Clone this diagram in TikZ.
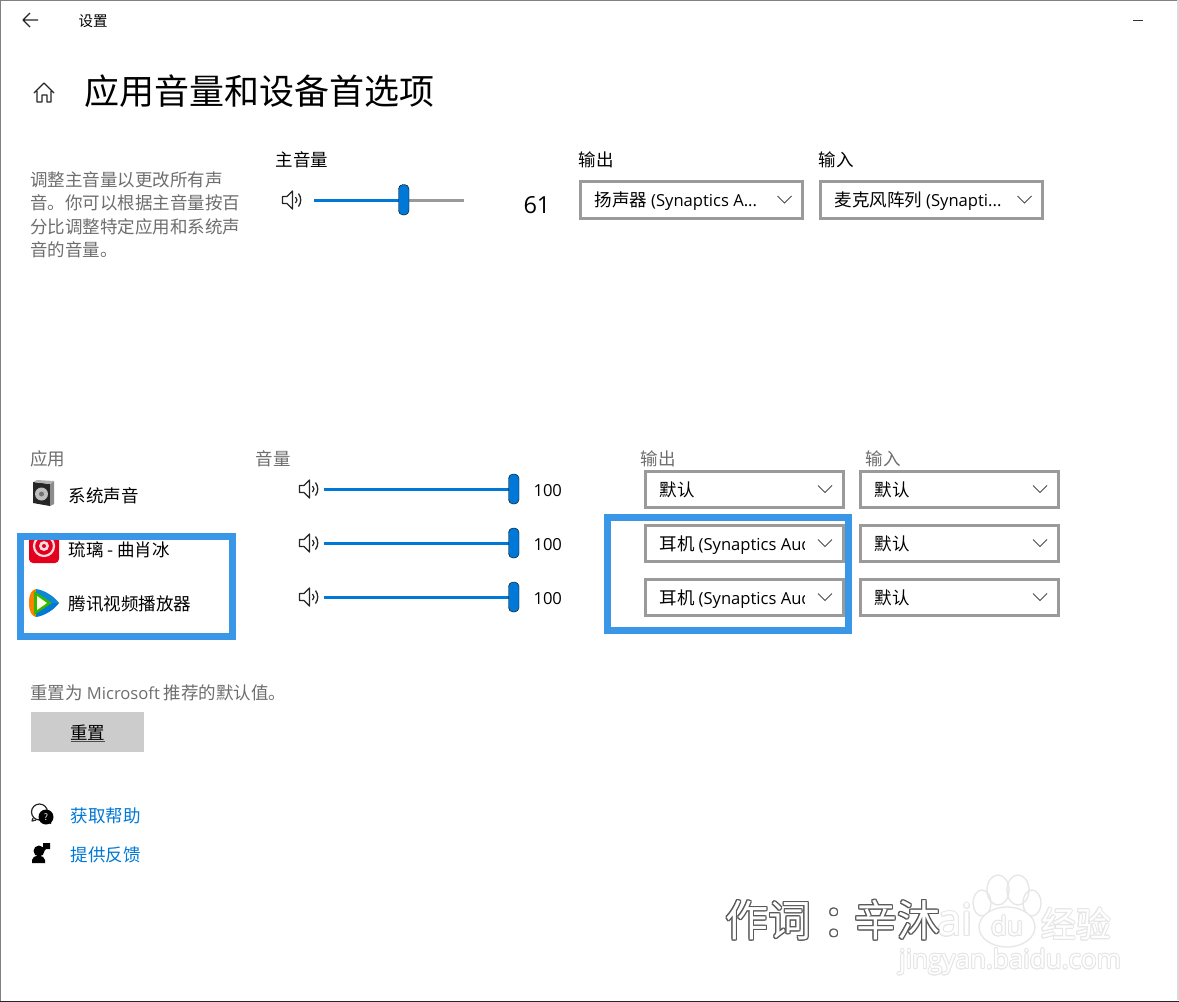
\documentclass[tikz,border=0pt]{standalone}
\usepackage{fontspec}
\setmainfont{Noto Sans CJK SC}
\newfontfamily\lat{Open Sans}
\usetikzlibrary{calc}
\definecolor{winblue}{HTML}{0078D7}
\definecolor{markblue}{HTML}{3A96E6}
\definecolor{boxgrey}{HTML}{9A9A9A}
\definecolor{mutedtext}{HTML}{6E6E6E}
\definecolor{wmgrey}{HTML}{E6E6E6}
\definecolor{neteasered}{HTML}{E2001E}
\newcommand{\fs}[1]{\fontsize{#1}{#1}\selectfont}
\newcommand{\cl}{\lat\fontsize{16.6}{16.6}\selectfont}
\newcommand{\outltext}[3]{% text, stroke colour, radius
  \foreach \a in {0,30,...,330}{\pgfmathsetlengthmacro{\dx}{#3*cos(\a)}\pgfmathsetlengthmacro{\dy}{#3*sin(\a)}%
    \rlap{\kern\dx\raise\dy\hbox{\color{#2}#1}}}%
  \rlap{\color{white}#1}\phantom{#1}}
\tikzset{
  x=1pt,y=-1pt,
  lbl/.style={anchor=west,inner sep=0pt,font=\fs{17.5},xshift=-0.7pt},
  muted/.style={lbl,text=mutedtext},
  combotxt/.style={anchor=base west,inner sep=0pt,font=\fs{17.5}},
  combobox/.style={draw=boxgrey,line width=3pt,fill=white},
  chev/.style={draw=black!70,line width=1pt},
  track/.style={line width=3pt},
  thumb/.style={fill=winblue,rounded corners=4.5pt},
  markframe/.style={draw=markblue,line width=7pt},
  glyph/.style={draw=black!85,line width=1.4pt,line join=round},
  link/.style={lbl,text=winblue},
  wmline/.style={draw=wmgrey,line width=1.3pt},
}
% name, x1,y1,x2,y2,text
\newcommand{\combo}[6]{%
  \draw[combobox] (#2,#3) rectangle (#4,#5);
  \node[combotxt] (#1) at ($(#2,#3)!0.5!(#2,#5)+(14,6.5)$) {#6};
  \fill[white] (#4-38,#3+2) rectangle (#4-2,#5-2);
  \draw[chev] ($(#4,#3)!0.5!(#4,#5)+(-25,-4)$) -- ++(7,7) -- ++(7,-7);
}
\newcommand{\spk}[2]{%
  \begin{scope}[shift={(#1,#2)}]
    \draw[glyph,line width=1.3pt] (-8.5,-3.5) -- (-4,-3.5) -- (1.5,-9) -- (1.5,9) -- (-4,3.5) -- (-8.5,3.5) -- cycle;
    \draw[glyph,line width=1.3pt] (4.5,-3) .. controls (6.5,-1) and (6.5,1) .. (4.5,3);
    \draw[glyph,line width=1.3pt] (7.5,-6.5) .. controls (10.5,-2) and (10.5,2) .. (7.5,6.5);
  \end{scope}}
\newcommand{\slider}[4]{%
  \draw[track,boxgrey] (#1,#3) -- (#2,#3);
  \draw[track,winblue] (#1,#3) -- (#4,#3);
}
\begin{document}
\begin{tikzpicture}
\useasboundingbox (0,0) rectangle (1179,1002);
\fill[white] (0,0) rectangle (1179,1002);
% window edges
\draw[draw=gray,line width=1.5pt] (0.5,0) -- (0.5,1002);
\draw[draw=gray,line width=1pt] (0,0.5) -- (1179,0.5);
\draw[draw=black!15,line width=2pt] (1177.5,0) -- (1177.5,1000);
\draw[draw=black!85,line width=1.5pt] (0,1001.3) -- (1179,1001.3);
% title bar
\draw[glyph,line width=1.2pt] (23,20) -- (38,20) (30,13) -- (23,20) -- (30,27);
\node[lbl,font=\fs{14.5}] (settings) at (79,21.5) {设置};
\draw[black!80,line width=1pt] (1133,20.5) -- (1143,20.5);
% heading
\draw[glyph] (34,93) -- (44,83) -- (54,93) (37,91) -- (37,102) -- (42,102) -- (42,95) -- (47,95) -- (47,102) -- (51,102) -- (51,91);
\node[lbl,font=\fs{35}] (title) at (85,91) {应用音量和设备首选项};
% description
\node[muted] (d1) at (31,180) {调整主音量以更改所有声};
\node[muted] (d2) at (31,203) {音。你可以根据主音量按百};
\node[muted] (d3) at (31,227) {分比调整特定应用和系统声};
\node[muted] (d4) at (31,250) {音的音量。};
% master
\node[lbl] (master) at (276,160) {主音量};
\spk{291}{200}
\slider{314}{464}{200}{404}
\draw[thumb] (398.5,184.5) rectangle (409,215);
\node[lbl,font=\lat\fs{23.5}] (vol) at (524,205) {61};
\node[lbl] (outh) at (579,160) {输出};
\node[lbl] (inh) at (819,160) {输入};
\combo{c1}{580.5}{181.5}{802.5}{218.5}{扬声器 {\cl (Synaptics A...}}
\combo{c2}{820.5}{181.5}{1042.5}{218.5}{麦克风阵列 {\cl (Synapti...}}
% table headers
\node[muted] (happ) at (31,459) {应用};
\node[muted] (hvol) at (256,459) {音量};
\node[muted] (hout) at (641,459) {输出};
\node[muted] (hin) at (866,459) {输入};
% system sounds icon
\fill[black!85] (33,482) -- (50,484) -- (50,506) -- (33,503) -- cycle;
\fill[black!45] (50,484) -- (54,481) -- (54,504) -- (50,506) -- cycle;
\fill[black!30] (33,482) -- (37,480) -- (54,481) -- (50,484) -- cycle;
\fill[black!25] (41.5,494) circle (6.5);
\fill[black!55] (41.5,494) circle (2.5);
\node[lbl] (a1) at (69,495.5) {系统声音};
% clipped row
\begin{scope}
  \clip (24,540) rectangle (230,633);
  \fill[neteasered,rounded corners=4pt] (29,530) rectangle (59,563);
  \draw[white!85!neteasered,line width=2.2pt] (44,546) circle (10);
  \fill[white!85!neteasered] (44,546) circle (5);
  \fill[neteasered] (44,546) circle (2);
  \node[lbl] (a2) at (69,550) {琉璃 - 曲肖冰};
\end{scope}
% video player icon
\fill[orange] (29,603) .. controls (29,593) and (32,590) .. (36,589) -- (36,617) .. controls (32,616) and (29,612) .. (29,603) -- cycle;
\fill[cyan!70!blue] (36,589) .. controls (44,590) and (54,596) .. (59,603) -- (48,603) -- (36,595) -- cycle;
\fill[winblue] (36,617) .. controls (44,616) and (54,610) .. (59,603) -- (48,603) -- (36,611) -- cycle;
\fill[green!65!black!80!yellow] (34,591) -- (52,603) -- (34,615) -- cycle;
\fill[white!90!yellow] (37,596) -- (47,603) -- (37,610) -- cycle;
\node[lbl] (a3) at (69,604) {腾讯视频播放器};
% app sliders
\foreach \y [count=\i] in {489,543,597}{
  \spk{308}{\y}
  \slider{324}{514}{\y}{514}
  \draw[thumb] (508.5,\y-15) rectangle (519,\y+15);
  \node[lbl,font=\lat\fs{16.6}] (n\i) at (534,\y+2) {100};
}
% app combos
\combo{o1}{645.5}{471.5}{843}{507.5}{默认}
\combo{i1}{860.5}{471.5}{1058}{507.5}{默认}
\combo{o2}{645.5}{525.5}{843}{561.5}{耳机 {\cl (Synaptics Audio}}
\combo{i2}{860.5}{525.5}{1058}{561.5}{默认}
\combo{o3}{645.5}{579.5}{843}{615.5}{耳机 {\cl (Synaptics Audio}}
\combo{i3}{860.5}{579.5}{1058}{615.5}{默认}
% highlight frames
\draw[markframe] (20.5,536.5) rectangle (232.5,636.5);
\draw[markframe] (607,517.5) rectangle (848,630);
% reset
\node[muted] (resettxt) at (31,693) {重置为 {\cl Microsoft} 推荐的默认值。};
\fill[black!20] (31,712) rectangle (144,752);
\node[inner sep=0pt,font=\fs{17.5}] (resetbtn) at (87.5,732.5) {重置};
\draw[black!70,line width=0.7pt] (71,741.5) -- (105,741.5);
% help icons
\draw[glyph,line width=1.2pt] (33,818) -- (32,821) -- (36,820);
\draw[glyph,line width=1.2pt,fill=white] (39.5,812) circle (8);
\fill[black] (46,817) circle (7.5);
\fill[black] (47,822) -- (51,824) -- (51,819) -- cycle;
\node[text=white,inner sep=0pt,font=\fs{9}] (q) at (46,817) {?};
\node[link] (help) at (71,815.5) {获取帮助};
\fill[black] (39,851) circle (5.5);
\fill[black] (32,863) -- (32,860) .. controls (32,857) and (35,856) .. (38.5,856) .. controls (42,856) and (45,857) .. (45,860) -- (45,863) -- cycle;
\fill[black] (43,843) rectangle (50,849) (43,849) -- (43,852) -- (46,849) -- cycle;
\node[link] (feedback) at (71,854.5) {提供反馈};
% watermark
\draw[wmline] (998,890) ellipse (11 and 15);
\draw[wmline] (1018,890) ellipse (11 and 15);
\draw[wmline] (982,903) ellipse (9 and 13);
\draw[wmline] (1032,903) ellipse (9 and 13);
\draw[wmline,fill=white] (1007,927) ellipse (28 and 20);
\node[inner sep=0pt,font=\lat\fs{44}] (wmai) at (955,920) {\outltext{ai}{wmgrey}{1}};
\node[inner sep=0pt,font=\lat\fs{26}] (wmdu) at (1007,926) {\outltext{du}{wmgrey}{1}};
\node[inner sep=0pt,font=\fs{35}] (wmjy) at (1076,924) {\outltext{经验}{wmgrey}{1}};
\node[inner sep=0pt,font=\lat\fs{26}] (wmurl) at (1010,962) {\outltext{jingyan.baidu.com}{wmgrey}{0.9}};
\node[anchor=west,inner sep=0pt,font=\fs{43}] (credit) at (725,920) {\outltext{作词\kern12pt：\kern-12pt辛沐}{black!65}{1.1}};
\end{tikzpicture}
\end{document}
